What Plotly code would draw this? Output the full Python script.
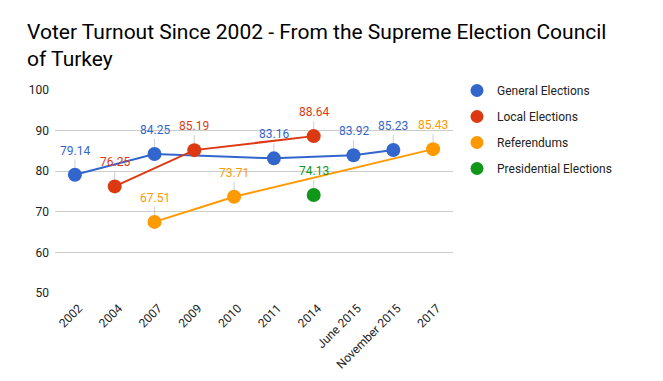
import plotly.graph_objects as go

categories = ["2002", "2004", "2007", "2009", "2010", "2011", "2014",
              "June 2015", "November 2015", "2017"]

general_x = ["2002", "2007", "2011", "June 2015", "November 2015"]
general_y = [79.14, 84.25, 83.16, 83.92, 85.23]

local_x = ["2004", "2009", "2014"]
local_y = [76.25, 85.19, 88.64]

ref_x = ["2007", "2010", "2017"]
ref_y = [67.51, 73.71, 85.43]

pres_x = ["2014"]
pres_y = [74.13]

series = [
    ("General Elections", general_x, general_y, "#3366cc"),
    ("Local Elections", local_x, local_y, "#dc3912"),
    ("Referendums", ref_x, ref_y, "#ff9900"),
    ("Presidential Elections", pres_x, pres_y, "#109618"),
]

FONT = "Roboto, Arial, sans-serif"
# page body has an 8px margin; figure is sized/positioned to compensate
W, H = 655, 373

fig = go.Figure()
annotations = []
for i, (name, xs, ys, col) in enumerate(series):
    fig.add_trace(go.Scatter(
        x=xs, y=ys, name=name, mode="lines+markers" if len(xs) > 1 else "markers",
        line=dict(color=col, width=2), marker=dict(color=col, size=14),
        showlegend=False, hoverinfo="x+y",
    ))
    fig.add_trace(go.Scatter(
        x=[None], y=[None], name=name, mode="markers",
        marker=dict(color=col, size=13), legendgroup=f"g{i}", showlegend=True,
    ))
    for x, y in zip(xs, ys):
        annotations.append(dict(
            x=categories.index(x), y=y, xref="x", yref="y", text=f"{y:.2f}",
            showarrow=True, arrowhead=0, arrowwidth=1, arrowcolor="rgba(160,160,160,0.5)",
            ax=0, ay=-15, standoff=7, yanchor="bottom",
            font=dict(family=FONT, size=12, color=col),
        ))

fig.update_layout(
    width=W, height=H,
    margin=dict(l=47, r=210, t=82, b=88, autoexpand=False),
    paper_bgcolor="white", plot_bgcolor="white",
    font=dict(family=FONT, size=12, color="#222222"),
    title=dict(text="Voter Turnout Since 2002 - From the Supreme Election Council<br>of Turkey",
               x=19 / W, xanchor="left", xref="container",
               y=1 - 31 / H, yanchor="top", yref="container", pad=dict(l=0, t=0),
               font=dict(family=FONT, size=21, color="#000000")),
    xaxis=dict(type="category", categoryorder="array", categoryarray=categories,
               range=[-0.5, len(categories) - 0.5], showgrid=False, showline=False,
               ticks="", tickangle=-45, ticklabelstandoff=5, ticklabelshift=4,
               automargin=False, tickfont=dict(size=12, color="#222222")),
    yaxis=dict(range=[50, 100], dtick=10, showgrid=True, gridcolor="#cccccc",
               zeroline=False, showline=False, ticks="", ticklabelstandoff=5,
               automargin=False, tickfont=dict(size=12, color="#222222")),
    legend=dict(x=449 / W, xref="container", y=1 - 68 / H, yref="container",
                xanchor="left", yanchor="top", tracegroupgap=7,
                font=dict(size=12, color="#222222"), bgcolor="rgba(0,0,0,0)"),
    annotations=annotations,
    hovermode="closest",
)

fig.write_html("out.html")
